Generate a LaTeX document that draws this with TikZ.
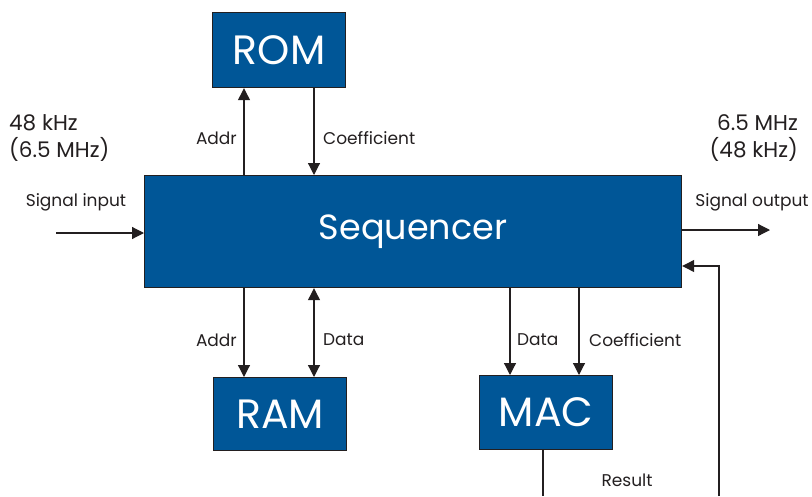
\documentclass[tikz,border=0pt]{standalone}
\usepackage{fontspec}
\setmainfont{Poppins}
\usetikzlibrary{arrows.meta}
\definecolor{boxblue}{HTML}{005697}
\definecolor{ink}{HTML}{231F20}
\tikzset{
  x=1pt, y=-1pt,
  block/.style={draw=ink, line width=1.2pt, fill=boxblue, text=white, inner sep=0pt, anchor=north west},
  wire/.style={draw=ink, line width=1.2pt},
  arr/.style={wire, -{Triangle[length=12pt,width=12pt]}},
  darr/.style={wire, {Triangle[length=12pt,width=12pt]}-{Triangle[length=12pt,width=12pt]}},
  lbl/.style={text=ink, font=\fontsize{17}{19}\selectfont, inner sep=0pt},
  rate/.style={text=ink, font=\fontsize{21.5}{27}\selectfont, inner sep=0pt},
  big/.style={font=\fontsize{41}{44}\selectfont},
  huge/.style={font=\fontsize{35}{40}\selectfont},
}
\begin{document}
\begin{tikzpicture}
\useasboundingbox (0,0) rectangle (812,496);
% blocks
\node[block, big, minimum width=133pt, minimum height=75pt] (rom) at (212,12) {ROM};
\node[block, huge, minimum width=537pt, minimum height=112pt] (seq) at (144,175) {Sequencer};
\node[block, big, minimum width=133pt, minimum height=73pt] (ram) at (213,377) {RAM};
\node[block, big, minimum width=133pt, minimum height=74pt] (mac) at (479,375) {MAC};
% free ends
\coordinate (inS) at (56,233);
\coordinate (outE) at (770,230);
\coordinate (macB) at (543,496);
\coordinate (fbB) at (719,496);
\coordinate (fbT) at (719,266);
% connectors
\draw[arr] (inS) -- (inS -| seq.west);
\draw[arr] (outE -| seq.east) -- (outE);
\draw[arr] (seq.north -| 244,0) -- (rom.south -| 244,0);
\draw[arr] (rom.south -| 314,0) -- (seq.north -| 314,0);
\draw[arr] (seq.south -| 244,0) -- (ram.north -| 244,0);
\draw[darr] (seq.south -| 314,0) -- (ram.north -| 314,0);
\draw[arr] (seq.south -| 510,0) -- (mac.north -| 510,0);
\draw[arr] (seq.south -| 579,0) -- (mac.north -| 579,0);
\draw[wire] (mac.south -| macB) -- (macB);
\draw[arr] (fbB) -- (fbT) -- (fbT -| seq.east);
% labels
\node[rate, anchor=west, align=left] (fin) at (9,138) {48 kHz\\(6.5 MHz)};
\node[rate, anchor=east, align=right] (fout) at (798,138) {6.5 MHz\\(48 kHz)};
\node[lbl] (lin) at (76,202) {Signal input};
\node[lbl] (lout) at (752,202) {Signal output};
\node[lbl, anchor=east] (la1) at (237,138) {Addr};
\node[lbl, anchor=west] (lc1) at (323,138) {Coefficient};
\node[lbl, anchor=east] (la2) at (237,340) {Addr};
\node[lbl, anchor=west] (ld2) at (323,340) {Data};
\node[lbl, anchor=west] (ld3) at (517,340) {Data};
\node[lbl, anchor=west] (lc3) at (589,340) {Coefficient};
\node[lbl] (lres) at (627,480) {Result};
\end{tikzpicture}
\end{document}
